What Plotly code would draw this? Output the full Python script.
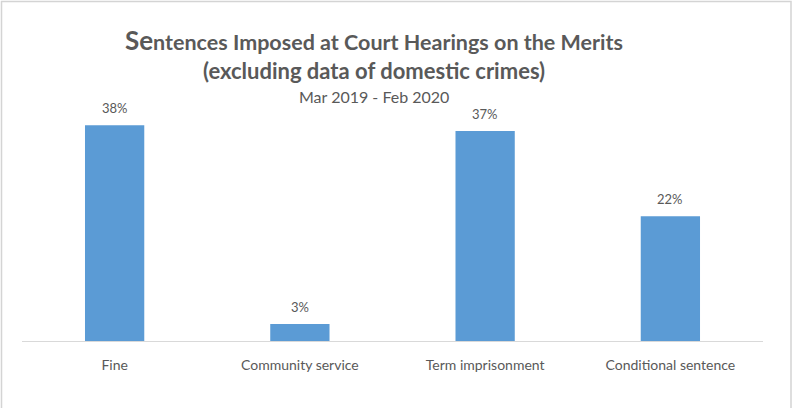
import plotly.graph_objects as go

# Sentence types and their share of all sentences (%)
categories = ["Fine", "Community service", "Term imprisonment", "Conditional sentence"]
shares = [38, 3, 37, 22]
share_labels = [f"{v}%" for v in shares]

title_line1 = "<span style='font-size:26px'>Se</span>ntences Imposed at Court Hearings on the Merits"
title_line2 = "(excluding data of domestic crimes)"
subtitle = "Mar 2019 - Feb 2020"

W, H = 793, 408
ML, MR, MT, MB = 22, 30, 114, 67
PW, PH = W - ML - MR, H - MT - MB

FONT = "Lato"
GREY = "#595959"
BAR = "#5B9BD5"

fig = go.Figure(
    go.Bar(
        x=categories,
        y=shares,
        marker=dict(color=BAR, line=dict(width=0)),
        width=0.32,
        hoverinfo="skip",
    )
)

# value labels above each bar
for c, v, t in zip(categories, shares, share_labels):
    fig.add_annotation(
        x=c, y=v, text=t, showarrow=False, yanchor="bottom", yshift=7,
        font=dict(family=FONT, size=13, color=GREY),
    )


def px_x(p):
    return (p - ML) / PW


def px_y(p):
    return (H - MB - p) / PH


title_cx = px_x(374)
fig.add_annotation(
    xref="paper", yref="paper", x=title_cx, y=px_y(40), text=title_line1,
    showarrow=False, xanchor="center", yanchor="middle",
    font=dict(family=FONT, size=21.5, color=GREY, weight="bold"),
)
fig.add_annotation(
    xref="paper", yref="paper", x=title_cx, y=px_y(70), text=title_line2,
    showarrow=False, xanchor="center", yanchor="middle",
    font=dict(family=FONT, size=22, color=GREY, weight="bold"),
)
fig.add_annotation(
    xref="paper", yref="paper", x=title_cx, y=px_y(96), text=subtitle,
    showarrow=False, xanchor="center", yanchor="middle",
    font=dict(family=FONT, size=16, color=GREY),
)

# outer frame of the chart
fig.add_shape(
    type="rect", xref="paper", yref="paper",
    x0=px_x(1.5), x1=px_x(791), y0=px_y(415), y1=px_y(1.5),
    line=dict(color="#d4d4d4", width=1.5), layer="below",
)

fig.update_layout(
    width=W, height=H,
    margin=dict(l=ML, r=MR, t=MT, b=MB),
    paper_bgcolor="white", plot_bgcolor="white",
    showlegend=False,
    bargap=0.68,
    xaxis=dict(
        showline=True, linecolor="#d9d9d9", linewidth=1,
        ticks="", showgrid=False, ticklabelstandoff=11,
        tickfont=dict(family=FONT, size=14, color=GREY),
    ),
    yaxis=dict(range=[0, 40], visible=False, showgrid=False, zeroline=False),
)

fig.write_html("out.html")
